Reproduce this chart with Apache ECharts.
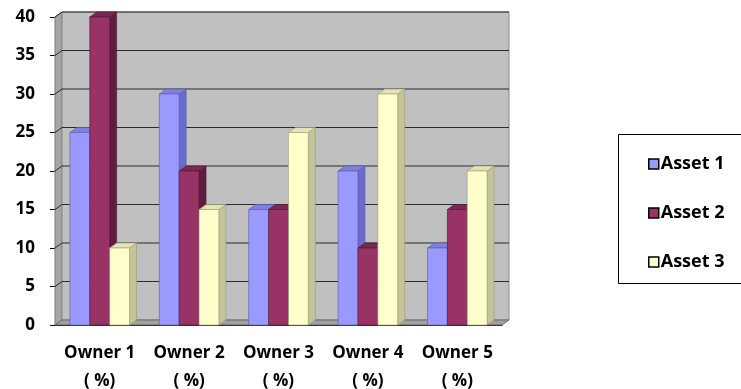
<!DOCTYPE html>
<html>
<head>
<meta charset="utf-8">
<script src="https://cdn.jsdelivr.net/npm/echarts@6/dist/echarts.min.js"></script>
<style>
  html, body { margin: 0; padding: 0; background: #fff; }
  #main { width: 741px; height: 389px; }
</style>
</head>
<body>
<div id="main"></div>
<script>
// data
var categories = ['Owner 1\n( %)', 'Owner 2\n( %)', 'Owner 3\n( %)', 'Owner 4\n( %)', 'Owner 5\n( %)'];
var asset1 = [25, 30, 15, 20, 10];
var asset2 = [40, 20, 15, 10, 15];
var asset3 = [10, 15, 25, 30, 20];
var yTicks = [0, 5, 10, 15, 20, 25, 30, 35, 40];

// 3d depth offset (px)
var DX = 7, DY = -5;
var FONT = '"Open Sans", "Noto Sans", sans-serif';

// front / side / top colours for each asset
var palette = [
  { front: '#9999FF', side: '#6B6BCC', top: '#8080E0', line: '#5a5aa8' },
  { front: '#993366', side: '#5E1D3E', top: '#7A2952', line: '#4d1a33' },
  { front: '#FFFFCC', side: '#C4C499', top: '#E3E3B5', line: '#9a9a78' }
];

// one column with side + top faces
function barRenderer(slot) {
  var col = palette[slot];
  return function (params, api) {
    var c = api.value(0), v = api.value(1);
    var base = api.coord([c, 0]);
    var top = api.coord([c, v]);
    var band = api.size([1, 0])[0];
    var w = band * 2 / 9;
    var x0 = base[0] - 1.5 * w + slot * w;
    var x1 = x0 + w;
    return {
      type: 'group',
      children: [
        {
          type: 'polygon',
          shape: { points: [[x1, top[1]], [x1 + DX, top[1] + DY], [x1 + DX, base[1] + DY], [x1, base[1]]] },
          style: { fill: col.side, stroke: col.line, lineWidth: 0.6 }
        },
        {
          type: 'polygon',
          shape: { points: [[x0, top[1]], [x0 + DX, top[1] + DY], [x1 + DX, top[1] + DY], [x1, top[1]]] },
          style: { fill: col.top, stroke: col.line, lineWidth: 0.6 }
        },
        {
          type: 'rect',
          shape: { x: x0, y: top[1], width: w, height: base[1] - top[1] },
          style: { fill: col.front, stroke: col.line, lineWidth: 0.6 }
        }
      ]
    };
  };
}

// walls, floor and gridlines
function wallRenderer(params, api) {
  var cs = params.coordSys;
  var L = cs.x, R = cs.x + cs.width, T = cs.y, B = cs.y + cs.height;
  var kids = [
    {
      type: 'polygon',
      shape: { points: [[L, B], [L, T], [L + DX, T + DY], [L + DX, B + DY]] },
      style: { fill: '#A6A6A6', stroke: '#7a7a7a', lineWidth: 1 }
    },
    {
      type: 'rect',
      shape: { x: L + DX, y: T + DY, width: R - L, height: B - T },
      style: { fill: '#C0C0C0', stroke: '#8a8a8a', lineWidth: 1 }
    },
    {
      type: 'polygon',
      shape: { points: [[L, B], [R, B], [R + DX, B + DY], [L + DX, B + DY]] },
      style: { fill: '#A0A0A0', stroke: '#6a6a6a', lineWidth: 1 }
    }
  ];
  yTicks.forEach(function (t) {
    var y = api.coord([0, t])[1];
    if (t === 0) return;
    kids.push({
      type: 'polyline',
      shape: { points: [[L, y], [L + DX, y + DY], [R + DX, y + DY]] },
      style: { fill: null, stroke: '#2b2b2b', lineWidth: 1 }
    });
  });
  return { type: 'group', children: kids };
}

function toPoints(arr) {
  return arr.map(function (v, i) { return [i, v]; });
}

var chart = echarts.init(document.getElementById('main'));
chart.setOption({
  animation: false,
  backgroundColor: '#fff',
  grid: { left: 55, right: 239, top: 17, bottom: 64, outerBoundsMode: 'none' },
  graphic: [
    {
      type: 'rect',
      z: 0,
      shape: { x: 618.5, y: 134.5, width: 140, height: 149 },
      style: { fill: '#fff', stroke: '#000', lineWidth: 1 }
    }
  ],
  legend: {
    data: ['Asset 1', 'Asset 2', 'Asset 3'],
    orient: 'vertical',
    left: 643,
    top: 149,
    itemGap: 29,
    itemWidth: 10,
    itemHeight: 10,
    icon: 'rect',
    itemStyle: { borderColor: '#000', borderWidth: 1.5 },
    textStyle: { fontFamily: FONT, fontWeight: 'bold', fontSize: 18, color: '#000', lineHeight: 20, padding: [0, 0, 0, -3] }
  },
  xAxis: {
    type: 'category',
    data: categories,
    axisLine: { lineStyle: { color: '#000', width: 1 } },
    axisTick: { length: 6, lineStyle: { color: '#000' } },
    axisLabel: {
      interval: 0,
      hideOverlap: false,
      margin: 14,
      fontFamily: FONT,
      fontWeight: 'bold',
      fontSize: 17,
      lineHeight: 28,
      color: '#000'
    },
    splitLine: { show: false }
  },
  yAxis: {
    type: 'value',
    min: 0,
    max: 40,
    interval: 5,
    axisLine: { show: true, lineStyle: { color: '#000', width: 1 } },
    axisTick: { show: true, length: 5, lineStyle: { color: '#000' } },
    axisLabel: {
      margin: 20,
      fontFamily: FONT,
      fontWeight: 'bold',
      fontSize: 17,
      color: '#000'
    },
    splitLine: { show: false }
  },
  series: [
    {
      type: 'custom',
      z: 1,
      silent: true,
      clip: false,
      renderItem: wallRenderer,
      data: [[0, 0]],
      encode: { x: 0, y: 1 }
    },
    {
      name: 'Asset 1',
      type: 'custom',
      z: 2,
      clip: false,
      itemStyle: { color: palette[0].front },
      renderItem: barRenderer(0),
      data: toPoints(asset1),
      encode: { x: 0, y: 1 }
    },
    {
      name: 'Asset 2',
      type: 'custom',
      z: 3,
      clip: false,
      itemStyle: { color: palette[1].front },
      renderItem: barRenderer(1),
      data: toPoints(asset2),
      encode: { x: 0, y: 1 }
    },
    {
      name: 'Asset 3',
      type: 'custom',
      z: 4,
      clip: false,
      itemStyle: { color: palette[2].front },
      renderItem: barRenderer(2),
      data: toPoints(asset3),
      encode: { x: 0, y: 1 }
    }
  ]
});
</script>
</body>
</html>
